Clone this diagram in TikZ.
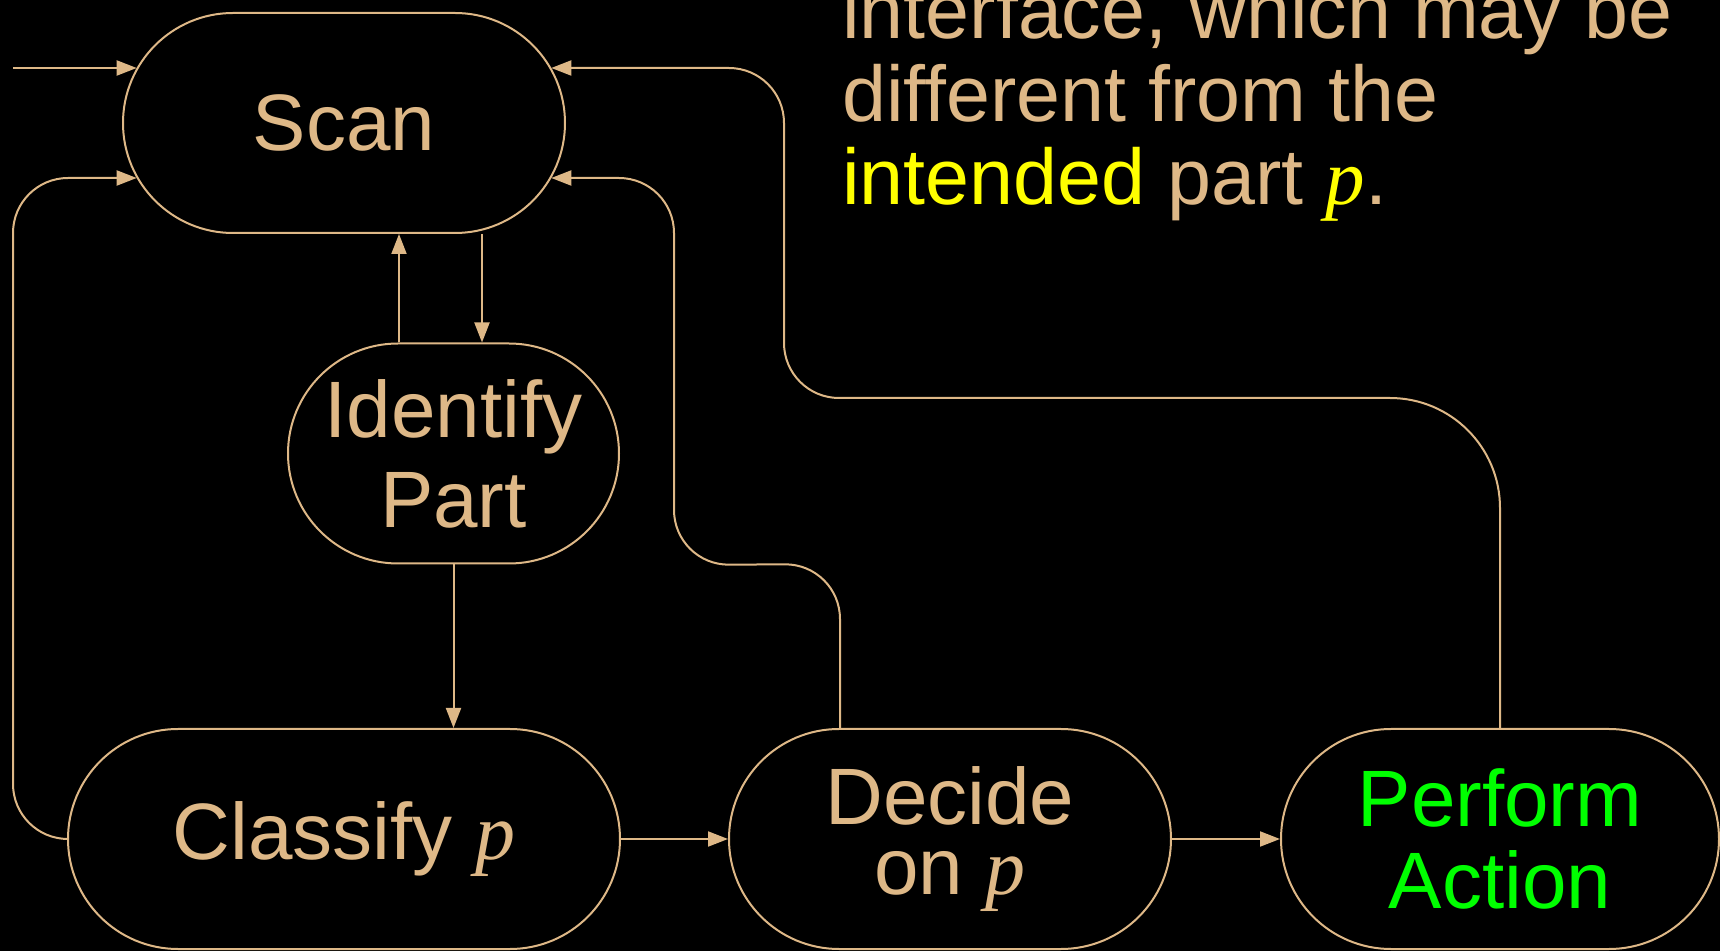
\documentclass[tikz,border=0pt]{standalone}
\usepackage{fontspec}
\setmainfont{Liberation Sans}
\newfontfamily\serifp{Liberation Serif}
\usepackage{xcolor}
\usetikzlibrary{shapes.misc, arrows.meta, positioning, calc}
\definecolor{tan}{RGB}{222,184,135}
\definecolor{hiyellow}{RGB}{255,255,0}
\definecolor{higreen}{RGB}{0,255,0}
\newcommand{\pvar}{{\serifp\itshape p}}

\begin{document}
\begin{tikzpicture}[
x=0.5pt, y=-0.5pt,
font=\fontsize{40}{45}\selectfont,
stepbox/.style={
rounded rectangle,
draw=tan,
line width=1pt,
text=tan,
align=center,
minimum height=110pt,
inner sep=0pt
},
link/.style={
draw=tan,
line width=1pt,
-{Triangle[length=10pt,width=7.5pt]}
},
note/.style={
text=tan,
align=left,
inner sep=0pt,
font=\fontsize{39.5}{41.5}\selectfont
}
]

\fill[black] (0,0) rectangle (1720,951);
\clip (0,0) rectangle (1720,951);
\useasboundingbox (0,0) rectangle (1720,951);

\node[stepbox, minimum width=221pt] (scan) at (344,123) {Scan};
\node[stepbox, minimum width=165.5pt] (identify) at (453.5,453.5) {Identify\\Part};
\node[stepbox, minimum width=276pt] (classify) at (344,839) {Classify \pvar};
\node[stepbox, minimum width=221pt] (decide) at (950,839) {Decide\\[-10pt]on \pvar};
\node[stepbox, minimum width=219pt, text=higreen] (perform) at (1500,839) {Perform\\[-4pt]Action};

\node[note, anchor=base west] (remark) at (842,205)
{interface, which may be\\different from the\\{\color{hiyellow}intended} part {\color{hiyellow}\pvar}.};

% entry and the two links between Scan and Identify Part
\coordinate (entry) at (13,68);
\draw[link] (entry) -- ($(scan.west)+(14.7,-55)$);
\draw[link] ($(scan.south)+(138,0)$) coordinate (down) -- (down |- identify.north);
\draw[link] ($(identify.north)+(-54.5,0)$) coordinate (up) -- (up |- scan.south);

% main line
\draw[link] (identify.south) -- (identify.south |- classify.north);
\draw[link] (classify.east) -- (decide.west);
\draw[link] (decide.east) -- (perform.west);

% loops back to Scan
\draw[link, rounded corners=27.5pt] (classify.west) -- (13,839) -- (13,178)
-- ($(scan.west)+(14.7,55)$);
\draw[link, rounded corners=27.5pt] ($(decide.north)+(-110,0)$) -- ++(0,-164)
-- (674,565) -- (674,178) -- ($(scan.east)+(-14.7,55)$);
\draw[link, rounded corners=55pt] (perform.north) -- (1500,398)
[rounded corners=27.5pt] -- (784,398) -- (784,68) -- ($(scan.east)+(-14.7,-55)$);

\end{tikzpicture}
\end{document}
